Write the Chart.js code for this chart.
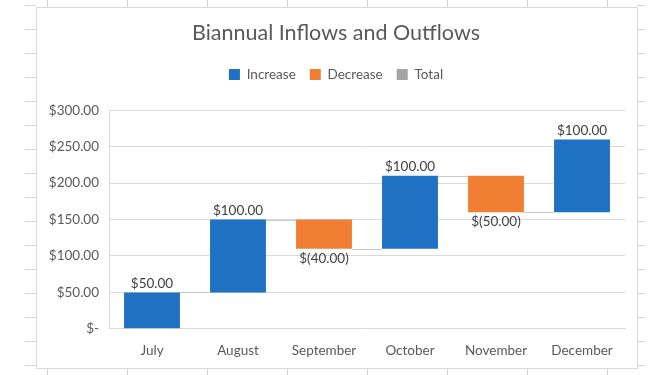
<!DOCTYPE html>
<html>
<head>
<meta charset="utf-8">
<script src="https://cdn.jsdelivr.net/npm/chart.js@4.4.1/dist/chart.umd.min.js"></script>
<style>
  html, body { margin: 0; padding: 0; background: #fff; }
  #wrap { width: 670px; height: 375px; }
</style>
</head>
<body>
<div id="wrap"><canvas id="waterfallChart" width="670" height="375"></canvas></div>
<script>
// Waterfall data
const months = ['July', 'August', 'September', 'October', 'November', 'December'];
const changes = [50, 100, -40, 100, -50, 100];
const yTicks = [0, 50, 100, 150, 200, 250, 300];

const BLUE = '#1F71C4';
const ORANGE = '#F07F34';
const GRAY = '#A5A5A5';
const TEXT = '#595959';
const FONT = 'Lato, "Open Sans", sans-serif';

// build floating bars from running total
const increase = [];
const decrease = [];
let running = 0;
changes.forEach(v => {
    const start = running;
    running += v;
    if (v >= 0) {
        increase.push([start, running]);
        decrease.push(null);
    } else {
        increase.push(null);
        decrease.push([start, running]);
    }
});

function money(v) {
    if (v === 0) return '$-';
    if (v < 0) return '$(' + Math.abs(v).toFixed(2) + ')';
    return '$' + v.toFixed(2);
}

// sheet gridline stubs and chart frame
const sheetBackground = {
    id: 'sheetBackground',
    beforeDraw(chart) {
        const ctx = chart.ctx;
        ctx.save();
        ctx.fillStyle = '#fff';
        ctx.fillRect(0, 0, chart.width, chart.height);
        ctx.strokeStyle = '#d4d4d4';
        ctx.lineWidth = 1;
        ctx.beginPath();
        for (let y = 5; y < 375; y += 24) {
            ctx.moveTo(25, y + 0.5); ctx.lineTo(36, y + 0.5);
            ctx.moveTo(637, y + 0.5); ctx.lineTo(645, y + 0.5);
        }
        for (let x = 47; x < 670; x += 80) {
            ctx.moveTo(x + 0.5, 0); ctx.lineTo(x + 0.5, 7);
            ctx.moveTo(x + 0.5, 368); ctx.lineTo(x + 0.5, 375);
        }
        ctx.stroke();
        ctx.strokeStyle = '#d9d9d9';
        ctx.strokeRect(36.5, 7.5, 601, 361);
        ctx.restore();
    }
};

// extra room under legend
const legendSpacing = {
    id: 'legendSpacing',
    beforeInit(chart) {
        const origFit = chart.legend.fit;
        chart.legend.fit = function () {
            origFit.bind(chart.legend)();
            this.height += 19;
        };
    }
};

// connectors + value labels
const waterfallExtras = {
    id: 'waterfallExtras',
    afterDatasetsDraw(chart) {
        const ctx = chart.ctx;
        const yScale = chart.scales.y;
        const rects = [];
        chart.data.datasets.forEach((ds, di) => {
            const meta = chart.getDatasetMeta(di);
            ds.data.forEach((d, i) => {
                if (!d) return;
                const el = meta.data[i];
                rects[i] = { x: el.x, w: el.width, start: d[0], end: d[1] };
            });
        });

        ctx.save();
        ctx.strokeStyle = '#c8c8c8';
        ctx.lineWidth = 1;
        ctx.beginPath();
        for (let i = 0; i < rects.length - 1; i++) {
            const a = rects[i], b = rects[i + 1];
            const y = Math.round(yScale.getPixelForValue(a.end)) + 0.5;
            ctx.moveTo(a.x + a.w / 2, y);
            ctx.lineTo(b.x - b.w / 2, y);
        }
        ctx.stroke();

        ctx.font = '13.5px ' + FONT;
        ctx.fillStyle = '#404040';
        ctx.textAlign = 'center';
        rects.forEach((r, i) => {
            const v = changes[i];
            const top = yScale.getPixelForValue(Math.max(r.start, r.end));
            const bottom = yScale.getPixelForValue(Math.min(r.start, r.end));
            if (v >= 0) {
                ctx.textBaseline = 'bottom';
                ctx.fillText(money(v), r.x, top - 2);
            } else {
                ctx.textBaseline = 'top';
                ctx.fillText(money(v), r.x, bottom + 3);
            }
        });
        ctx.restore();
    }
};

new Chart(document.getElementById('waterfallChart'), {
    type: 'bar',
    data: {
        labels: months,
        datasets: [
            { label: 'Increase', data: increase, backgroundColor: BLUE },
            { label: 'Decrease', data: decrease, backgroundColor: ORANGE },
            { label: 'Total', data: months.map(() => null), backgroundColor: GRAY }
        ]
    },
    options: {
        responsive: false,
        animation: false,
        layout: {
            padding: { top: 20, left: 47, right: 45, bottom: 2 }
        },
        datasets: {
            bar: {
                grouped: false,
                barPercentage: 1,
                categoryPercentage: 0.65,
                borderWidth: 0
            }
        },
        plugins: {
            title: {
                display: true,
                text: 'Biannual Inflows and Outflows',
                color: TEXT,
                font: { family: FONT, size: 21.5, weight: 'normal' },
                padding: { top: 0, bottom: 8 }
            },
            legend: {
                position: 'top',
                labels: {
                    color: TEXT,
                    font: { family: FONT, size: 13.5 },
                    boxWidth: 11,
                    boxHeight: 11,
                    padding: 14
                }
            },
            tooltip: { enabled: false }
        },
        scales: {
            x: {
                grid: { display: false, drawTicks: false },
                border: { display: true, color: '#d9d9d9' },
                ticks: {
                    color: TEXT,
                    font: { family: FONT, size: 13.5 },
                    padding: 14,
                    maxRotation: 0
                }
            },
            y: {
                min: yTicks[0],
                max: yTicks[yTicks.length - 1],
                afterBuildTicks: scale => {
                    scale.ticks = yTicks.map(v => ({ value: v }));
                },
                afterFit: scale => {
                    scale.width = 62;
                },
                grid: { color: '#d9d9d9', drawTicks: false },
                border: { display: true, color: '#d9d9d9' },
                ticks: {
                    color: TEXT,
                    font: { family: FONT, size: 13.5 },
                    padding: 10,
                    callback: value => money(value)
                }
            }
        }
    },
    plugins: [sheetBackground, legendSpacing, waterfallExtras]
});
</script>
</body>
</html>
